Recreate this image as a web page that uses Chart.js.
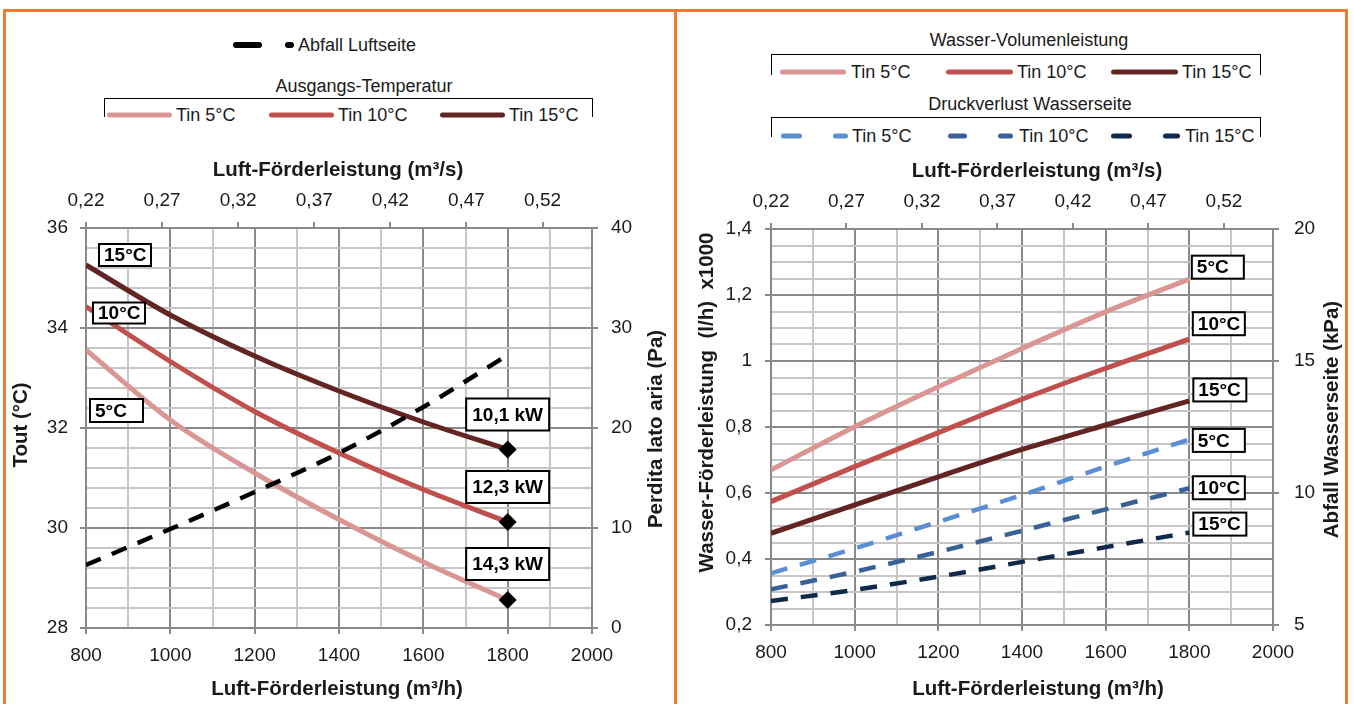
<!DOCTYPE html>
<html>
<head>
<meta charset="utf-8">
<script src="https://cdn.jsdelivr.net/npm/chart.js@4.4.1/dist/chart.umd.min.js"></script>
<style>
html,body{margin:0;padding:0;background:#fff;width:1354px;height:704px;overflow:hidden;
  font-family:"Liberation Sans",Arial,sans-serif;color:#1a1a1a;}
.panel{position:absolute;border:3px solid #ed7d31;border-bottom:none;box-sizing:border-box;}
#pl{left:3px;top:9px;width:674px;height:700px;}
#pr{left:674px;top:9px;width:674px;height:700px;}
canvas{position:absolute;}
#cl{left:6px;top:150px;}
#cr{left:677px;top:150px;}
.t{position:absolute;font-size:18px;line-height:22px;white-space:nowrap;transform:translateY(-50%);}
.sw{position:absolute;border-radius:3px;transform:translateY(-50%);}
.br{position:absolute;border:1px solid #000;border-bottom:none;box-sizing:border-box;}
</style>
</head>
<body>
<div class="panel" id="pl"></div>
<div class="panel" id="pr"></div>
<canvas id="cl" width="666" height="554"></canvas>
<canvas id="cr" width="667" height="554"></canvas>
<div id="legends"></div>
<script>
// ---------------- data ----------------
const airFlow = [800, 1000, 1200, 1400, 1600, 1800];            // m³/h
const toutTin5  = [33.56, 32.16, 31.10, 30.17, 29.32, 28.56];    // °C
const toutTin10 = [34.43, 33.33, 32.33, 31.50, 30.77, 30.12];
const toutTin15 = [35.26, 34.26, 33.44, 32.74, 32.12, 31.57];
const airPressureDrop = [6.3, 9.9, 13.6, 17.5, 22.1, 27.3];     // Pa
const waterFlowTin5  = [0.670, 0.801, 0.922, 1.038, 1.149, 1.248]; // l/h x1000
const waterFlowTin10 = [0.574, 0.680, 0.783, 0.884, 0.978, 1.066];
const waterFlowTin15 = [0.478, 0.564, 0.649, 0.732, 0.806, 0.879];
const waterDropTin5  = [6.96, 7.90, 8.91, 9.92, 11.00, 12.03];   // kPa
const waterDropTin10 = [6.35, 7.02, 7.77, 8.57, 9.38, 10.18];
const waterDropTin15 = [5.91, 6.33, 6.83, 7.39, 7.95, 8.50];
const seriesNames = ['Tin 5°C', 'Tin 10°C', 'Tin 15°C'];
const tempLabels = ['5°C', '10°C', '15°C'];
const capacityLabels = ['14,3 kW', '12,3 kW', '10,1 kW'];
const airDropName = 'Abfall Luftseite';
const topTicks = [0.22, 0.27, 0.32, 0.37, 0.42, 0.47, 0.52];    // m³/s

// ---------------- styles ----------------
const FONT = "'Liberation Sans', Arial, sans-serif";
const TXT = '#1a1a1a';
const GRID_MAJOR = '#8a8a8a', GRID_MINOR = '#c6c6c6';
const redColors = ['#d99694', '#c0504d', '#632523'];
const blueColors = ['#5b8fd2', '#386296', '#10294a'];
const TICK_FONT = {family: FONT, size: 19};

function near(v, step) { return Math.abs(v / step - Math.round(v / step)) < 1e-6; }
function fmt(v) { return String(Math.round(v * 1000) / 1000).replace('.', ','); }
function pts(ys) { return airFlow.map((x, i) => ({x: x, y: ys[i]})); }
const transparent = 'rgba(0,0,0,0)';

function xBottom(h) {
  return {type: 'linear', position: 'bottom', min: 800, max: 2000,
    ticks: {stepSize: 100, autoSkip: false, maxRotation: 0, padding: 10, font: TICK_FONT, color: TXT,
      callback: v => near(v, 200) ? String(v) : ''},
    grid: {color: c => near(c.tick.value, 200) ? GRID_MAJOR : GRID_MINOR, lineWidth: 2, tickLength: 6,
      tickColor: c => near(c.tick.value, 200) ? GRID_MAJOR : transparent},
    border: {display: true, color: GRID_MAJOR, width: 2},
    afterFit: s => { s.height = h; }};
}
function xTop(h) {
  return {type: 'linear', position: 'top', min: 0.22, max: 0.5525,
    afterBuildTicks: s => { s.ticks = topTicks.map(v => ({value: v})); },
    ticks: {autoSkip: false, maxRotation: 0, padding: 10, font: TICK_FONT, color: TXT, callback: v => fmt(v)},
    grid: {drawOnChartArea: false, tickLength: 6, color: GRID_MAJOR, tickColor: GRID_MAJOR, lineWidth: 2},
    border: {display: true, color: GRID_MAJOR, width: 2},
    afterFit: s => { s.height = h; }};
}
function yLeft(min, max, step, major, w, pad) {
  return {type: 'linear', position: 'left', min: min, max: max,
    ticks: {stepSize: step, autoSkip: false, padding: pad, font: TICK_FONT, color: TXT,
      callback: v => near(v, major) ? fmt(v) : ''},
    grid: {color: c => near(c.tick.value, major) ? GRID_MAJOR : GRID_MINOR, lineWidth: 2, tickLength: 6,
      tickColor: c => near(c.tick.value, major) ? GRID_MAJOR : transparent},
    border: {display: true, color: GRID_MAJOR, width: 2},
    afterFit: s => { s.width = w; }};
}
function yRight(min, max, step, w, pad) {
  return {type: 'linear', position: 'right', min: min, max: max,
    ticks: {stepSize: step, autoSkip: false, padding: pad, font: TICK_FONT, color: TXT, callback: v => fmt(v)},
    grid: {drawOnChartArea: false, tickLength: 6, color: GRID_MAJOR, tickColor: GRID_MAJOR, lineWidth: 2},
    border: {display: true, color: GRID_MAJOR, width: 2},
    afterFit: s => { s.width = w; }};
}

// ---------------- plugins ----------------
const boxLabels = {
  id: 'boxLabels',
  afterDatasetsDraw(chart, args, opts) {
    const ctx = chart.ctx;
    ctx.save();
    ctx.font = 'bold 19px ' + FONT;
    ctx.textBaseline = 'middle';
    for (const it of opts.items) {
      const data = chart.getDatasetMeta(it.dataset).data;
      const p = it.at === 'first' ? data[0] : data[data.length - 1];
      const left = it.center ? p.x - it.w / 2 : p.x + it.dx;
      const top = p.y + it.dy;
      ctx.fillStyle = '#fff';
      ctx.fillRect(left, top, it.w, it.h);
      ctx.lineWidth = 2;
      ctx.strokeStyle = '#000';
      ctx.strokeRect(left, top, it.w, it.h);
      ctx.fillStyle = '#000';
      if (it.center) { ctx.textAlign = 'center'; ctx.fillText(it.text, left + it.w / 2, top + it.h / 2 + 1); }
      else { ctx.textAlign = 'left'; ctx.fillText(it.text, left + 5, top + it.h / 2 + 1); }
    }
    ctx.restore();
  }
};
const axisTitles = {
  id: 'axisTitles',
  afterDraw(chart, args, opts) {
    const ctx = chart.ctx, a = chart.chartArea;
    ctx.save();
    ctx.font = 'bold 20.5px ' + FONT;
    ctx.fillStyle = TXT;
    ctx.textAlign = 'center';
    ctx.textBaseline = 'middle';
    const cx = (a.left + a.right) / 2, cy = (a.top + a.bottom) / 2;
    for (const t of opts.items) {
      let x, y, rot = 0;
      if (t.side === 'left') { x = a.left - t.offset; y = cy + t.shift; rot = -Math.PI / 2; }
      else if (t.side === 'right') { x = a.right + t.offset; y = cy + t.shift; rot = -Math.PI / 2; }
      else if (t.side === 'top') { x = cx + t.shift; y = a.top - t.offset; }
      else { x = cx + t.shift; y = a.bottom + t.offset; }
      ctx.save(); ctx.translate(x, y); ctx.rotate(rot); ctx.fillText(t.text, 0, 0); ctx.restore();
    }
    ctx.restore();
  }
};

const baseOptions = {
  responsive: false, animation: false, devicePixelRatio: 1,
  layout: {autoPadding: false, padding: 0},
  events: []
};

// ---------------- left chart ----------------
const lastIdx = airFlow.length - 1;
const leftCurves = [toutTin5, toutTin10, toutTin15].map((ys, i) => ({
  label: seriesNames[i], data: pts(ys), xAxisID: 'x', yAxisID: 'y',
  borderColor: redColors[i], backgroundColor: '#000', borderWidth: 5,
  tension: 0.4, cubicInterpolationMode: 'monotone',
  pointStyle: 'rectRot', pointRadius: c => c.dataIndex === lastIdx ? 9 : 0,
  pointBackgroundColor: '#000', pointBorderColor: '#000', pointBorderWidth: 0
}));
const leftDash = {
  label: airDropName, data: pts(airPressureDrop), xAxisID: 'x', yAxisID: 'y2',
  borderColor: '#000', borderWidth: 4.5, borderDash: [16, 12], pointRadius: 0,
  tension: 0.4, cubicInterpolationMode: 'monotone'
};

new Chart(document.getElementById('cl'), {
  type: 'line',
  data: {datasets: [leftDash].concat(leftCurves)},
  options: Object.assign({}, baseOptions, {
    scales: {x: xBottom(76), x2: xTop(78), y: yLeft(28, 36, 0.4, 2, 80, 12), y2: yRight(0, 40, 10, 80, 13)},
    plugins: {
      legend: {display: false}, tooltip: {enabled: false},
      boxLabels: {items: [
        {dataset: 3, at: 'first', text: tempLabels[2], dx: 13, dy: -21, w: 52, h: 22},
        {dataset: 2, at: 'first', text: tempLabels[1], dx: 7, dy: -4, w: 52, h: 21},
        {dataset: 1, at: 'first', text: tempLabels[0], dx: 4, dy: 49, w: 53, h: 23},
        {dataset: 3, at: 'last', text: capacityLabels[2], center: true, dy: -51, w: 83, h: 32},
        {dataset: 2, at: 'last', text: capacityLabels[1], center: true, dy: -51, w: 83, h: 32},
        {dataset: 1, at: 'last', text: capacityLabels[0], center: true, dy: -52, w: 83, h: 32}
      ]},
      axisTitles: {items: [
        {side: 'left', text: 'Tout (°C)', offset: 65, shift: -3},
        {side: 'right', text: 'Perdita lato aria (Pa)', offset: 64, shift: 1},
        {side: 'top', text: 'Luft-Förderleistung (m³/s)', offset: 58, shift: -1},
        {side: 'bottom', text: 'Luft-Förderleistung (m³/h)', offset: 61, shift: -2}
      ]}
    }
  }),
  plugins: [boxLabels, axisTitles]
});

// ---------------- right chart ----------------
const rightSolid = [waterFlowTin5, waterFlowTin10, waterFlowTin15].map((ys, i) => ({
  label: seriesNames[i], data: pts(ys), xAxisID: 'x', yAxisID: 'y',
  borderColor: redColors[i], borderWidth: 5, pointRadius: 0,
  tension: 0.4, cubicInterpolationMode: 'monotone'
}));
const rightDash = [waterDropTin5, waterDropTin10, waterDropTin15].map((ys, i) => ({
  label: seriesNames[i], data: pts(ys), xAxisID: 'x', yAxisID: 'y2',
  borderColor: blueColors[i], borderWidth: 4.5, borderDash: [17, 13], pointRadius: 0,
  tension: 0.4, cubicInterpolationMode: 'monotone'
}));

new Chart(document.getElementById('cr'), {
  type: 'line',
  data: {datasets: rightSolid.concat(rightDash)},
  options: Object.assign({}, baseOptions, {
    scales: {x: xBottom(79), x2: xTop(79), y: yLeft(0.2, 1.4, 0.05, 0.2, 94, 13), y2: yRight(5, 20, 5, 71, 15)},
    plugins: {
      legend: {display: false}, tooltip: {enabled: false},
      boxLabels: {items: [
        {dataset: 0, at: 'last', text: tempLabels[0], dx: 2.5, dy: -23.5, w: 52, h: 23},
        {dataset: 1, at: 'last', text: tempLabels[1], dx: 3.5, dy: -27, w: 52, h: 23},
        {dataset: 2, at: 'last', text: tempLabels[2], dx: 4, dy: -22.5, w: 53, h: 23},
        {dataset: 3, at: 'last', text: tempLabels[0], dx: 3.5, dy: -10.5, w: 52, h: 23},
        {dataset: 4, at: 'last', text: tempLabels[1], dx: 3.5, dy: -12, w: 52, h: 23},
        {dataset: 5, at: 'last', text: tempLabels[2], dx: 4, dy: -20, w: 53, h: 23}
      ]},
      axisTitles: {items: [
        {side: 'left', text: 'Wasser-Förderleistung  (l/h)  x1000', offset: 64, shift: -24.5},
        {side: 'right', text: 'Abfall Wasserseite (kPa)', offset: 59.5, shift: -7.5},
        {side: 'top', text: 'Luft-Förderleistung (m³/s)', offset: 58, shift: 15},
        {side: 'bottom', text: 'Luft-Förderleistung (m³/h)', offset: 64, shift: 16}
      ]}
    }
  }),
  plugins: [boxLabels, axisTitles]
});

// ---------------- legends (HTML) ----------------
const L = document.getElementById('legends');
function addText(text, x, y, center) {
  const d = document.createElement('div');
  d.className = 't'; d.textContent = text;
  d.style.top = y + 'px';
  if (center) { d.style.left = x + 'px'; d.style.transform = 'translate(-50%,-50%)'; }
  else d.style.left = x + 'px';
  L.appendChild(d);
}
function addSeg(x1, x2, y, color, h) {
  const d = document.createElement('div');
  d.className = 'sw';
  d.style.left = x1 + 'px'; d.style.width = (x2 - x1) + 'px';
  d.style.top = y + 'px'; d.style.height = h + 'px'; d.style.background = color;
  L.appendChild(d);
}
function addBracket(x1, x2, y, h) {
  const d = document.createElement('div');
  d.className = 'br';
  d.style.left = x1 + 'px'; d.style.width = (x2 - x1) + 'px';
  d.style.top = y + 'px'; d.style.height = h + 'px';
  L.appendChild(d);
}
// left panel legend
addSeg(233, 262, 45, '#000', 6); addSeg(285, 294, 45, '#000', 6);
addText(airDropName, 298, 45);
addText('Ausgangs-Temperatur', 364, 86, true);
addBracket(104, 593, 98, 19);
[[107, 172, 176], [269, 334, 338], [440, 505, 509]].forEach((p, i) => {
  addSeg(p[0], p[1], 115, redColors[i], 5); addText(seriesNames[i], p[2], 115);
});
// right panel legend
addText('Wasser-Volumenleistung', 1029, 40, true);
addBracket(771, 1261, 54, 21);
[[780, 846, 851], [946, 1013, 1017], [1111, 1178, 1182]].forEach((p, i) => {
  addSeg(p[0], p[1], 72, redColors[i], 5); addText(seriesNames[i], p[2], 72);
});
addText('Druckverlust Wasserseite', 1030, 104, true);
addBracket(771, 1261, 117, 20);
[[781, 802, 833, 848, 852], [948, 967, 998, 1013, 1019], [1111, 1132, 1163, 1180, 1185]].forEach((p, i) => {
  addSeg(p[0], p[1], 136, blueColors[i], 5); addSeg(p[2], p[3], 136, blueColors[i], 5);
  addText(seriesNames[i], p[4], 136);
});
</script>
</body>
</html>
